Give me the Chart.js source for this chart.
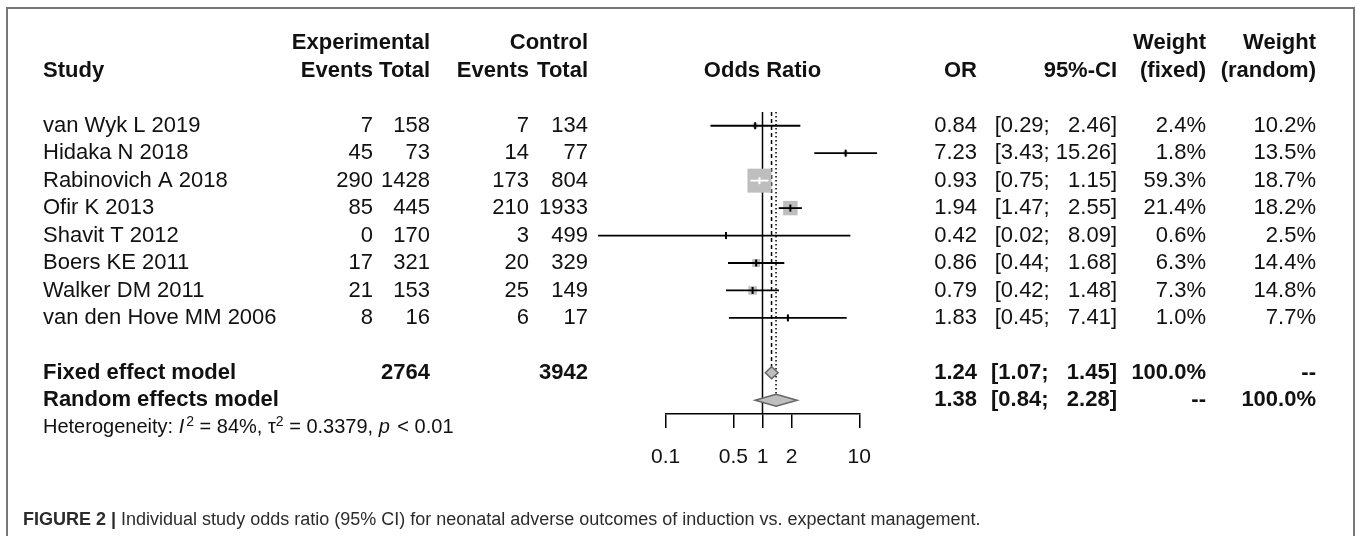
<!DOCTYPE html>
<html>
<head>
<meta charset="utf-8">
<script src="https://cdn.jsdelivr.net/npm/chart.js@4.4.1/dist/chart.umd.min.js"></script>
<style>
body{margin:0;background:#fff;}
canvas{display:block;}
</style>
</head>
<body>
<canvas id="forest" width="1357" height="536"></canvas>
<script>
//dati dei singoli studi
var studi = ["van Wyk L 2019","Hidaka N 2018","Rabinovich A 2018","Ofir K 2013","Shavit T 2012","Boers KE 2011","Walker DM 2011","van den Hove MM 2006"];
var eventiSper = [7,45,290,85,0,17,21,8];
var totaliSper = [158,73,1428,445,170,321,153,16];
var eventiCtrl = [7,14,173,210,3,20,25,6];
var totaliCtrl = [134,77,804,1933,499,329,149,17];
var oddsRatio = [0.84,7.23,0.93,1.94,0.42,0.86,0.79,1.83];
var orInf = [0.29,3.43,0.75,1.47,0.02,0.44,0.42,0.45];
var orSup = [2.46,15.26,1.15,2.55,8.09,1.68,1.48,7.41];
var pesoFisso = [2.4,1.8,59.3,21.4,0.6,6.3,7.3,1.0];
var pesoRandom = [10.2,13.5,18.7,18.2,2.5,14.4,14.8,7.7];

//modelli fixed / random
var modelli = ["Fixed effect model","Random effects model"];
var modelliTotSper = [2764,null];
var modelliTotCtrl = [3942,null];
var modelliOr = [1.24,1.38];
var modelliInf = [1.07,0.84];
var modelliSup = [1.45,2.28];
var modelliPesoFisso = [100.0,null];
var modelliPesoRandom = [null,100.0];

//etichette asse x
var tickAsse = [0.1,0.5,1,2,10];

var FONT = '"Liberation Sans", Arial, sans-serif';
var rigaModelli = [9,10];
//bordo destro delle colonne
var colEvS = 373, colTotS = 430, colEvC = 529, colTotC = 588;
var colOr = 977, colCi = 1117, colPf = 1206, colPr = 1316;

//lato del quadrato in base al peso (fixed)
function latoQuadrato(p){
    return 24*Math.sqrt(p/59.3);
}

function riga(ctx,x1,y1,x2,y2){
    ctx.beginPath();
    ctx.moveTo(x1,y1);
    ctx.lineTo(x2,y2);
    ctx.stroke();
}

function scrivi(ctx,testo,x,y,allinea,peso,size){
    ctx.font = (peso||'') + ' ' + (size||22) + 'px ' + FONT;
    ctx.textAlign = allinea||'left';
    ctx.textBaseline = 'middle';
    ctx.fillText(testo,x,y);
}

//intervallo tipo "[0.29;  2.46]" : la parte "[inf;" termina sempre nello stesso punto
function scriviCI(ctx,inf,sup,y,peso){
    ctx.font = (peso||'') + ' 22px ' + FONT;
    var fine = colCi - ctx.measureText("00.00]").width - ctx.measureText(" ").width;
    scrivi(ctx,"[" + inf.toFixed(2) + ";",fine,y,'right',peso);
    scrivi(ctx,sup.toFixed(2) + "]",colCi,y,'right',peso);
}

var forestPlugin = {
    id:'forest',
    beforeDatasetsDraw:function(chart){
        var ctx = chart.ctx, sx = chart.scales.x, sy = chart.scales.y;
        var top = sy.getPixelForValue(-0.5);
        ctx.save();
        ctx.strokeStyle = '#000';
        ctx.lineWidth = 1.5;
        var x1 = sx.getPixelForValue(1);
        riga(ctx,x1,top,x1,sy.getPixelForValue(10.5));
        //linea tratteggiata del modello fixed
        ctx.setLineDash([4,3]);
        var xf = sx.getPixelForValue(modelliOr[0]);
        riga(ctx,xf,top,xf,sy.getPixelForValue(rigaModelli[0])-6);
        //linea punteggiata del modello random
        ctx.setLineDash([1.5,2.5]);
        var xr = sx.getPixelForValue(modelliOr[1]);
        riga(ctx,xr,top,xr,sy.getPixelForValue(rigaModelli[1])-6);
        ctx.restore();
    },
    afterDatasetsDraw:function(chart){
        var ctx = chart.ctx, sx = chart.scales.x, sy = chart.scales.y;
        ctx.save();
        for(var i=0;i<studi.length;i++){
            var y = sy.getPixelForValue(i);
            var a = sx.getPixelForValue(orInf[i]);
            var b = sx.getPixelForValue(orSup[i]);
            var c = sx.getPixelForValue(oddsRatio[i]);
            var mezzo = latoQuadrato(pesoFisso[i])/2;
            //se l'intervallo sta dentro il quadrato si disegna in bianco
            ctx.strokeStyle = (a>=c-mezzo && b<=c+mezzo) ? '#fff' : '#000';
            ctx.lineWidth = 1.8;
            riga(ctx,a,y,b,y);
            ctx.lineWidth = 2;
            riga(ctx,c,y-3.5,c,y+3.5);
        }
        //diamanti dei modelli
        for(var m=0;m<modelli.length;m++){
            var ym = sy.getPixelForValue(rigaModelli[m]);
            var l = sx.getPixelForValue(modelliInf[m]);
            var r = sx.getPixelForValue(modelliSup[m]);
            var cm = sx.getPixelForValue(modelliOr[m]);
            ctx.beginPath();
            ctx.moveTo(l,ym);
            ctx.lineTo(cm,ym-6);
            ctx.lineTo(r,ym);
            ctx.lineTo(cm,ym+6);
            ctx.closePath();
            ctx.fillStyle = '#BEBEBE';
            ctx.fill();
            ctx.strokeStyle = '#666';
            ctx.lineWidth = 1.5;
            ctx.stroke();
        }
        ctx.restore();
    },
    afterDraw:function(chart){
        var ctx = chart.ctx, sx = chart.scales.x, sy = chart.scales.y;
        ctx.save();
        //cornice
        ctx.strokeStyle = '#777';
        ctx.lineWidth = 2;
        ctx.strokeRect(7,8,1347,600);

        ctx.fillStyle = '#111';
        var h1 = sy.getPixelForValue(-3), h2 = sy.getPixelForValue(-2);
        scrivi(ctx,"Study",43,h2,'left','bold');
        scrivi(ctx,"Experimental",colTotS,h1,'right','bold');
        scrivi(ctx,"Control",colTotC,h1,'right','bold');
        scrivi(ctx,"Events",colEvS,h2,'right','bold');
        scrivi(ctx,"Total",colTotS,h2,'right','bold');
        scrivi(ctx,"Events",colEvC,h2,'right','bold');
        scrivi(ctx,"Total",colTotC,h2,'right','bold');
        scrivi(ctx,"Odds Ratio",sx.getPixelForValue(1),h2,'center','bold');
        scrivi(ctx,"OR",colOr,h2,'right','bold');
        scrivi(ctx,"95%-CI",colCi,h2,'right','bold');
        scrivi(ctx,"Weight",colPf,h1,'right','bold');
        scrivi(ctx,"(fixed)",colPf,h2,'right','bold');
        scrivi(ctx,"Weight",colPr,h1,'right','bold');
        scrivi(ctx,"(random)",colPr,h2,'right','bold');

        for(var i=0;i<studi.length;i++){
            var y = sy.getPixelForValue(i);
            scrivi(ctx,studi[i],43,y,'left');
            scrivi(ctx,String(eventiSper[i]),colEvS,y,'right');
            scrivi(ctx,String(totaliSper[i]),colTotS,y,'right');
            scrivi(ctx,String(eventiCtrl[i]),colEvC,y,'right');
            scrivi(ctx,String(totaliCtrl[i]),colTotC,y,'right');
            scrivi(ctx,oddsRatio[i].toFixed(2),colOr,y,'right');
            scriviCI(ctx,orInf[i],orSup[i],y);
            scrivi(ctx,pesoFisso[i].toFixed(1)+"%",colPf,y,'right');
            scrivi(ctx,pesoRandom[i].toFixed(1)+"%",colPr,y,'right');
        }
        for(var m=0;m<modelli.length;m++){
            var ym = sy.getPixelForValue(rigaModelli[m]);
            scrivi(ctx,modelli[m],43,ym,'left','bold');
            if(modelliTotSper[m]!=null) scrivi(ctx,String(modelliTotSper[m]),colTotS,ym,'right','bold');
            if(modelliTotCtrl[m]!=null) scrivi(ctx,String(modelliTotCtrl[m]),colTotC,ym,'right','bold');
            scrivi(ctx,modelliOr[m].toFixed(2),colOr,ym,'right','bold');
            scriviCI(ctx,modelliInf[m],modelliSup[m],ym,'bold');
            scrivi(ctx,modelliPesoFisso[m]!=null ? modelliPesoFisso[m].toFixed(1)+"%" : "--",colPf,ym,'right','bold');
            scrivi(ctx,modelliPesoRandom[m]!=null ? modelliPesoRandom[m].toFixed(1)+"%" : "--",colPr,ym,'right','bold');
        }

        //eterogeneita
        var yh = sy.getPixelForValue(11);
        var pezzi = [
            ["Heterogeneity: ","",20,0],["I","italic",20,0],["2","",14,-6],[" = 84%, \u03c4","",20,0],["2","",14,-6],
            [" = 0.3379, ","",20,0],["p","italic",20,0],[" < 0.01","",20,0]
        ];
        var px = 43;
        for(var k=0;k<pezzi.length;k++){
            scrivi(ctx,pezzi[k][0],px,yh+pezzi[k][3],'left',pezzi[k][1],pezzi[k][2]);
            px += ctx.measureText(pezzi[k][0]).width;
            if(pezzi[k][1]=='italic') px += 2;
        }

        //didascalia
        ctx.fillStyle = '#2b2b2b';
        scrivi(ctx,"FIGURE 2 | ",23,520,'left','bold',18);
        var w = ctx.measureText("FIGURE 2 | ").width;
        scrivi(ctx,"Individual study odds ratio (95% CI) for neonatal adverse outcomes of induction vs. expectant management.",23+w,520,'left','',18);
        ctx.restore();
    }
};

var ctx = document.getElementById('forest').getContext('2d');
new Chart(ctx,{
    type:'scatter',
    data:{
        datasets:[{
            data:studi.map(function(s,i){ return {x:oddsRatio[i],y:i}; }),
            pointStyle:'rect',
            pointRadius:pesoFisso.map(function(p){ return latoQuadrato(p)/Math.SQRT2; }),
            pointHoverRadius:pesoFisso.map(function(p){ return latoQuadrato(p)/Math.SQRT2; }),
            backgroundColor:'#BEBEBE',
            borderWidth:0,
            clip:false
        }]
    },
    options:{
        responsive:false,
        animation:false,
        events:[],
        layout:{padding:{left:665.7,right:497.7,top:112,bottom:0}},
        plugins:{legend:{display:false},tooltip:{enabled:false}},
        scales:{
            x:{
                type:'logarithmic',min:0.1,max:10,position:'bottom',
                afterBuildTicks:function(s){ s.ticks = tickAsse.map(function(v){ return {value:v}; }); },
                afterFit:function(s){ s.height = 122; },
                grid:{display:true,drawOnChartArea:false,drawTicks:true,tickLength:14,color:'#000',lineWidth:1.5},
                border:{display:true,color:'#000',width:1.5},
                ticks:{autoSkip:false,maxRotation:0,padding:17,color:'#111',font:{family:FONT,size:21},
                    callback:function(v){ return String(v); }}
            },
            y:{type:'linear',reverse:true,min:-0.5,max:10.5,display:false}
        }
    },
    plugins:[forestPlugin]
});
</script>
</body>
</html>
